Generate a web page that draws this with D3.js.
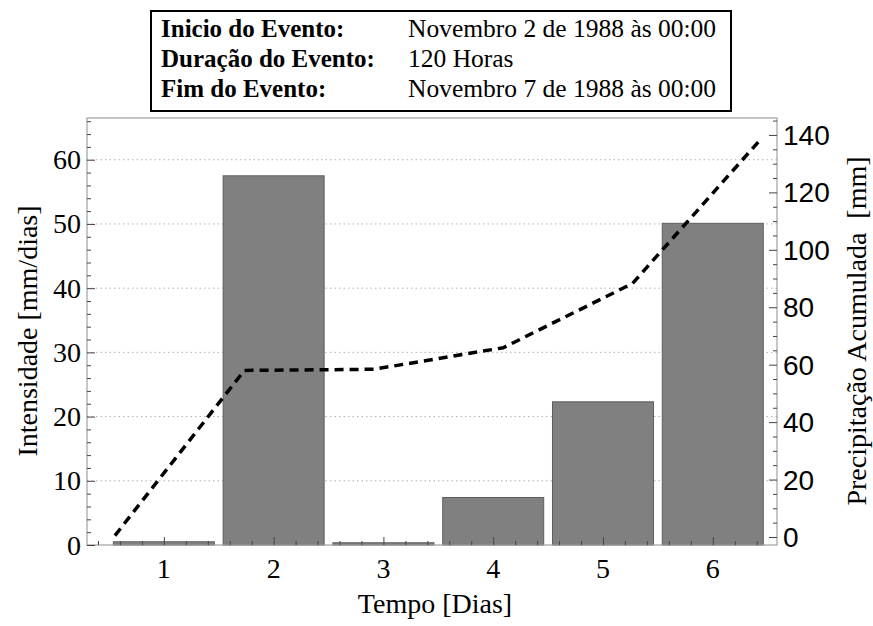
<!DOCTYPE html>
<html><head><meta charset="utf-8">
<script src="https://cdn.jsdelivr.net/npm/d3@7"></script>
<style>
html,body{margin:0;padding:0;background:#fff;}
svg{display:block;}
</style></head>
<body>
<svg id="chart" width="873" height="626"></svg>
<script>
// ---- data ----
const days = [1, 2, 3, 4, 5, 6];
const intensity = [0.5, 57.5, 0.35, 7.4, 22.3, 50.1];          // mm/dias (bars)
const accumulated = [0.5, 58.0, 58.4, 65.9, 88.3, 139.0];       // mm (dashed line)
const leftTicks = [0, 10, 20, 30, 40, 50, 60];
const rightTicks = [0, 20, 40, 60, 80, 100, 120, 140];
const infoLabels = ["Inicio do Evento:", "Duração do Evento:", "Fim do Evento:"];
const infoValues = ["Novembro 2 de 1988 às 00:00", "120 Horas", "Novembro 7 de 1988 às 00:00"];

const serif = "'Liberation Serif','Times New Roman',Times,serif";
const sans = "'Liberation Sans',Arial,Helvetica,sans-serif";

const svg = d3.select("#chart");
const L = 87, R = 777, T = 118, B = 545;

const x = d3.scaleLinear().domain([0.3, 6.585]).range([L, R]);
const xLine = d3.scaleLinear().domain([0.784, 6.116]).range([L, R]);
const yL = d3.scaleLinear().domain([0, 66.5]).range([B, T]);
const yR = d3.scaleLinear().domain([-2.79, 145.9]).range([B, T]);

// grid lines
svg.append("g").selectAll("line").data(leftTicks.filter(d => d > 0)).join("line")
  .attr("x1", L).attr("x2", R).attr("y1", d => yL(d)).attr("y2", d => yL(d))
  .attr("stroke", "#b0b0b0").attr("stroke-width", 1).attr("stroke-dasharray", "1.5,3");

// bars
const bw = 0.92;
svg.append("g").selectAll("rect").data(days).join("rect")
  .attr("x", (d) => x(d - bw / 2))
  .attr("width", x(bw) - x(0))
  .attr("y", (d, i) => yL(intensity[i]))
  .attr("height", (d, i) => yL(0) - yL(intensity[i]))
  .attr("fill", "#808080").attr("stroke", "#5e5e5e").attr("stroke-width", 1);

// frame
svg.append("rect").attr("x", L).attr("y", T).attr("width", R - L).attr("height", B - T)
  .attr("fill", "none").attr("stroke", "#a0a0a0").attr("stroke-width", 1.2);

// left axis (ticks inward)
const leftAxis = d3.axisRight(yL).tickValues(leftTicks).tickSize(8).tickFormat("");
const gl = svg.append("g").attr("transform", `translate(${L},0)`).call(leftAxis);
const leftMinor = d3.axisRight(yL).tickValues(d3.range(0, 67, 2).filter(v => v % 10 !== 0)).tickSize(4).tickFormat("");
const glm = svg.append("g").attr("transform", `translate(${L},0)`).call(leftMinor);
[gl, glm].forEach(g => { g.select(".domain").remove(); g.selectAll("line").attr("stroke", "#444"); });
svg.append("g").selectAll("text").data(leftTicks).join("text")
  .attr("x", L - 6).attr("y", d => yL(d)).attr("dy", "0.34em")
  .attr("text-anchor", "end").style("font-family", serif).style("font-size", "28px")
  .text(d => d);

// right axis (ticks inward)
const rightAxis = d3.axisLeft(yR).tickValues(rightTicks).tickSize(8).tickFormat("");
const gr = svg.append("g").attr("transform", `translate(${R},0)`).call(rightAxis);
const rightMinor = d3.axisLeft(yR).tickValues(d3.range(0, 146, 5).filter(v => v % 20 !== 0)).tickSize(4).tickFormat("");
const grm = svg.append("g").attr("transform", `translate(${R},0)`).call(rightMinor);
[gr, grm].forEach(g => { g.select(".domain").remove(); g.selectAll("line").attr("stroke", "#444"); });
svg.append("g").selectAll("text").data(rightTicks).join("text")
  .attr("x", R + 6).attr("y", d => yR(d)).attr("dy", "0.36em")
  .attr("text-anchor", "start").style("font-family", sans).style("font-size", "28px")
  .text(d => d);

// bottom axis (ticks inward)
const botAxis = d3.axisTop(x).tickValues(days).tickSize(8).tickFormat("");
const gb = svg.append("g").attr("transform", `translate(0,${B})`).call(botAxis);
const botMinor = d3.axisTop(x).tickValues(d3.range(0.4, 6.59, 0.2).filter(v => Math.abs(v - Math.round(v)) > 0.05)).tickSize(4).tickFormat("");
const gbm = svg.append("g").attr("transform", `translate(0,${B})`).call(botMinor);
[gb, gbm].forEach(g => { g.select(".domain").remove(); g.selectAll("line").attr("stroke", "#444"); });
svg.append("g").selectAll("text").data(days).join("text")
  .attr("x", d => x(d)).attr("y", 578)
  .attr("text-anchor", "middle").style("font-family", serif).style("font-size", "28px")
  .text(d => d);

// accumulated line
svg.append("path").datum(days)
  .attr("d", d3.line().x(d => xLine(d)).y((d, i) => yR(accumulated[i])))
  .attr("fill", "none").attr("stroke", "#000").attr("stroke-width", 3.5)
  .attr("stroke-dasharray", "9,6");

// axis titles
svg.append("text").attr("transform", `translate(37,331) rotate(-90)`)
  .attr("text-anchor", "middle").style("font-family", serif).style("font-size", "28px")
  .text("Intensidade [mm/dias]");
svg.append("text").attr("transform", `translate(866,331) rotate(-90)`)
  .attr("text-anchor", "middle").style("font-family", serif).style("font-size", "28px")
  .style("white-space", "pre").attr("xml:space", "preserve")
  .text("Precipitação Acumulada  [mm]");
svg.append("text").attr("x", 435).attr("y", 613)
  .attr("text-anchor", "middle").style("font-family", serif).style("font-size", "28px")
  .text("Tempo [Dias]");

// info box
svg.append("rect").attr("x", 151).attr("y", 11).attr("width", 580).attr("height", 100)
  .attr("fill", "#fff").attr("stroke", "#000").attr("stroke-width", 2);
const lineY = [37, 67, 97];
svg.append("g").selectAll("text").data(infoLabels).join("text")
  .attr("x", 161).attr("y", (d, i) => lineY[i])
  .style("font-family", serif).style("font-size", "25px").style("font-weight", "bold")
  .text(d => d);
svg.append("g").selectAll("text").data(infoValues).join("text")
  .attr("x", 408).attr("y", (d, i) => lineY[i])
  .style("font-family", serif).style("font-size", "25.5px")
  .text(d => d);
</script>
</body></html>
